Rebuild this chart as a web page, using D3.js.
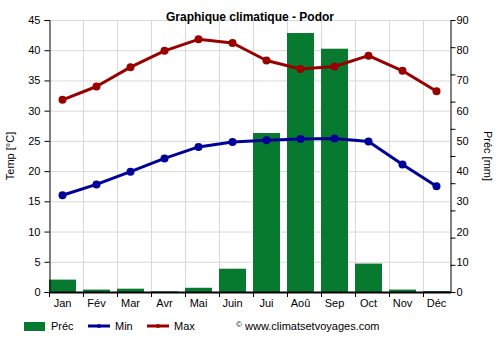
<!DOCTYPE html>
<html>
<head>
<meta charset="utf-8">
<script src="https://cdn.jsdelivr.net/npm/d3@7/dist/d3.min.js"></script>
<style>
  html, body { margin: 0; padding: 0; background: #fff; }
  svg { display: block; font-family: "Liberation Sans", Arial, sans-serif; }
</style>
</head>
<body>
<svg id="chart" width="500" height="350"></svg>
<script>
// Climate data for Podor
const months = ["Jan", "Fév", "Mar", "Avr", "Mai", "Juin", "Jui", "Aoû", "Sep", "Oct", "Nov", "Déc"];
const tempMax = [31.8, 34.0, 37.2, 39.9, 41.8, 41.2, 38.3, 36.9, 37.3, 39.1, 36.6, 33.2];
const tempMin = [16.0, 17.8, 19.9, 22.1, 24.0, 24.8, 25.1, 25.3, 25.4, 24.9, 21.1, 17.5];
const precip = [4.1, 0.8, 1.1, 0.2, 1.4, 7.7, 52.6, 85.7, 80.5, 9.4, 0.8, 0.3];
const tempTicks = [0, 5, 10, 15, 20, 25, 30, 35, 40, 45];
const precTicks = [0, 10, 20, 30, 40, 50, 60, 70, 80, 90];

const green = "#077a30", blue = "#000099", red = "#990000", grid = "#d9d9d9";
const svg = d3.select("#chart");
const pLeft = 49, pRight = 450, pTop = 20, pBottom = 292;

const x = d3.scaleBand().domain(months).range([pLeft, pRight])
  .paddingInner(7 / 34).paddingOuter(0);
const yT = d3.scaleLinear().domain([0, 45]).range([pBottom, pTop]);
const yP = d3.scaleLinear().domain([0, 90]).range([pBottom, pTop]);
// right-hand tick marks are spaced in ten equal steps
const yMark = d3.scaleLinear().domain([0, 10]).range([pBottom, pTop]);
const cx = m => x(m) + x.bandwidth() / 2;

// grid
const g = svg.append("g");
g.selectAll(".hg").data(tempTicks.slice(1)).join("line")
  .attr("x1", pLeft).attr("x2", pRight)
  .attr("y1", d => yT(d) + 0.5).attr("y2", d => yT(d) + 0.5)
  .attr("stroke", grid).attr("stroke-width", 1);
g.selectAll(".vg").data(months.slice(1)).join("line")
  .attr("x1", d => x(d) + 0.5).attr("x2", d => x(d) + 0.5)
  .attr("y1", pTop).attr("y2", pBottom)
  .attr("stroke", grid).attr("stroke-width", 1);

// precipitation bars
svg.append("g").selectAll("rect").data(precip).join("rect")
  .attr("x", (d, i) => x(months[i]))
  .attr("width", x.bandwidth())
  .attr("y", d => yP(d))
  .attr("height", d => pBottom - yP(d))
  .attr("fill", green);

// axes
const axL = svg.append("g").attr("transform", `translate(${pLeft + 0.5},0)`)
  .call(d3.axisLeft(yT).tickValues(tempTicks).tickSize(5).tickPadding(4));
const axR = svg.append("g").attr("transform", `translate(${pRight + 0.5},0)`)
  .call(d3.axisRight(yP).tickValues(precTicks).tickSize(0).tickPadding(6));
axR.append("g").selectAll("line").data(d3.range(0, 11)).join("line")
  .attr("x1", 0).attr("x2", 5)
  .attr("y1", d => yMark(d) + 0.5).attr("y2", d => yMark(d) + 0.5)
  .attr("stroke", "#000");
[axL, axR].forEach(a => {
  a.select(".domain").attr("stroke", "#000");
  a.selectAll("text").attr("font-size", 11).attr("fill", "#000")
    .attr("font-family", "'Liberation Sans', Arial, sans-serif");
});

// bottom axis
const axB = svg.append("g");
axB.selectAll("line.tk").data(months).join("line").attr("class", "tk")
  .attr("x1", d => x(d) + 0.5).attr("x2", d => x(d) + 0.5)
  .attr("y1", pBottom).attr("y2", pBottom + 5).attr("stroke", "#000");
axB.append("line").attr("x1", pLeft).attr("x2", pRight + 1)
  .attr("y1", pBottom + 0.5).attr("y2", pBottom + 0.5)
  .attr("stroke", "#000").attr("stroke-width", 2);
axB.selectAll("text").data(months).join("text")
  .attr("x", cx).attr("y", 307).attr("text-anchor", "middle")
  .attr("font-size", 11).text(d => d);

// temperature lines
const line = d3.line().x((d, i) => cx(months[i])).y(d => yT(d));
[[tempMin, blue], [tempMax, red]].forEach(([data, col]) => {
  svg.append("path").datum(data).attr("d", line)
    .attr("fill", "none").attr("stroke", col).attr("stroke-width", 3)
    .attr("stroke-linejoin", "round");
  svg.append("g").selectAll("circle").data(data).join("circle")
    .attr("cx", (d, i) => cx(months[i])).attr("cy", d => yT(d))
    .attr("r", 4).attr("fill", col);
});

// title and axis titles
svg.append("text").attr("x", 250).attr("y", 21).attr("text-anchor", "middle")
  .attr("font-size", 12).attr("font-weight", "bold").text("Graphique climatique - Podor");
svg.append("text").attr("transform", "translate(14,156) rotate(-90)")
  .attr("text-anchor", "middle").attr("font-size", 11).text("Temp [°C]");
svg.append("text").attr("transform", "translate(484,156) rotate(90)")
  .attr("text-anchor", "middle").attr("font-size", 11).text("Préc [mm]");

// legend
const lg = svg.append("g");
lg.append("rect").attr("x", 24).attr("y", 322).attr("width", 21).attr("height", 9).attr("fill", green);
lg.append("text").attr("x", 51).attr("y", 330).attr("font-size", 11).text("Préc");
[[88, blue, "Min"], [147, red, "Max"]].forEach(([lx, col, label]) => {
  lg.append("line").attr("x1", lx).attr("x2", lx + 22).attr("y1", 326).attr("y2", 326)
    .attr("stroke", col).attr("stroke-width", 3);
  lg.append("circle").attr("cx", lx + 11).attr("cy", 326).attr("r", 2).attr("fill", col);
  lg.append("text").attr("x", lx + 27).attr("y", 330).attr("font-size", 11).text(label);
});
lg.append("text").attr("x", 236).attr("y", 327).attr("font-size", 8).text("©");
lg.append("text").attr("x", 245).attr("y", 330).attr("font-size", 11).text("www.climatsetvoyages.com");
</script>
</body>
</html>
